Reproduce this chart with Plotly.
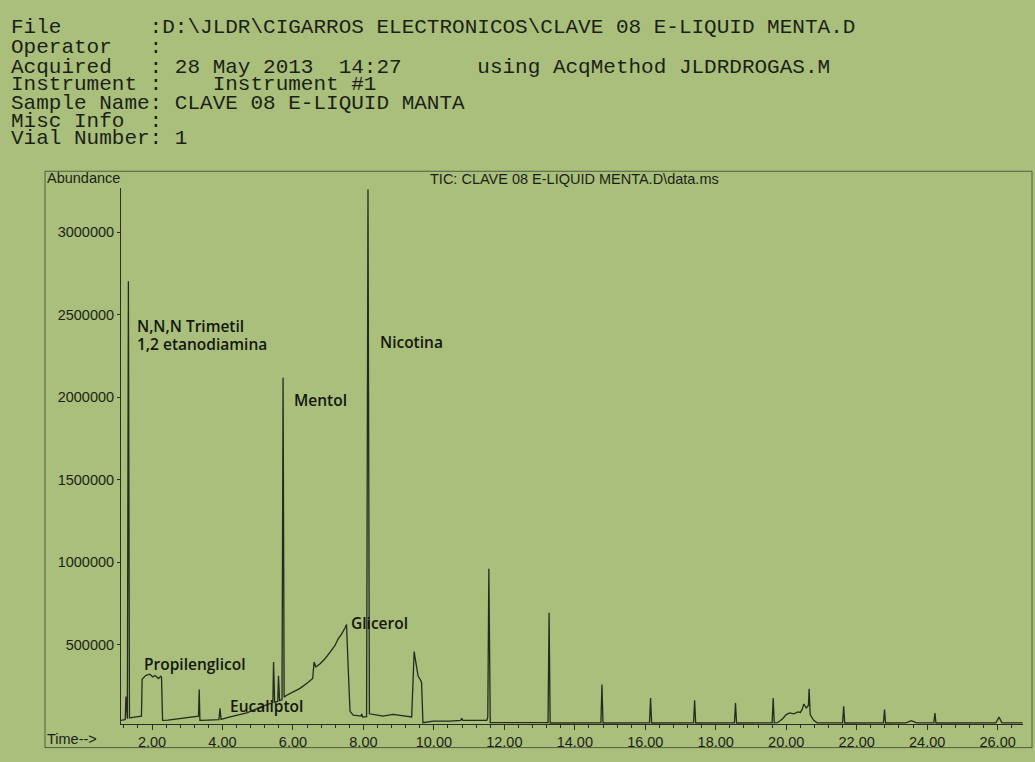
import plotly.graph_objects as go

# ---- data (time in min, abundance) ----
time_min = [1.12, 1.22, 1.24, 1.26, 1.28, 1.30, 1.33, 1.36, 1.45, 1.60, 1.70,
            1.72, 1.75, 1.80, 1.85, 1.94, 2.02, 2.09, 2.18, 2.25, 2.27, 2.30,
            2.45, 2.70, 3.00, 3.30, 3.32, 3.34, 3.36, 3.60, 3.90, 3.93, 3.96,
            4.16, 4.40, 4.69, 5.06, 5.35, 5.43, 5.45, 5.48, 5.57, 5.59, 5.62,
            5.69, 5.72, 5.75, 5.81, 6.01, 6.20, 6.39, 6.56, 6.60, 6.65, 6.77,
            6.91, 7.05, 7.19, 7.28, 7.38, 7.48, 7.52, 7.57, 7.62, 7.71, 7.85,
            7.93, 7.95, 7.98, 8.09, 8.13, 8.17, 8.37, 8.56, 8.84, 9.13, 9.37,
            9.44, 9.51, 9.55, 9.62, 9.65, 9.69, 9.98, 10.45, 10.76, 10.79, 10.82,
            11.02, 11.50, 11.53, 11.56, 11.60, 11.62, 13.24, 13.27, 13.30,
            14.74, 14.77, 14.80, 16.12, 16.15, 16.18, 17.37, 17.40, 17.43,
            18.53, 18.56, 18.59, 19.60, 19.63, 19.66, 19.75, 19.90, 20.00,
            20.10, 20.22, 20.33, 20.40, 20.45, 20.50, 20.57, 20.63, 20.65,
            20.68, 20.78, 20.88, 21.60, 21.63, 21.66, 22.76, 22.79, 22.82,
            23.40, 23.55, 23.70, 24.19, 24.22, 24.25, 25.95, 26.04, 26.12, 26.71]
abundance = [40000, 42000, 45000, 185000, 50000, 50000, 2703000, 55000, 58000, 64000, 66000,
             290000, 298000, 308000, 314000, 320000, 304000, 312000, 294000, 308000, 300000, 40000,
             42000, 48000, 56000, 64000, 66000, 227000, 40000, 42000, 45000, 113000, 46000,
             58000, 72000, 85000, 119000, 145000, 148000, 394000, 150000, 155000, 310000, 160000,
             165000, 2118000, 180000, 191000, 215000, 234000, 264000, 294000, 394000, 364000, 384000,
             414000, 453000, 493000, 533000, 563000, 602000, 622000, 350000, 95000, 72000, 66000,
             66000, 79000, 60000, 62000, 3260000, 80000, 72000, 66000, 76000, 66000, 61000,
             457000, 354000, 310000, 285000, 270000, 26000, 36000, 36000, 40000, 52000, 40000,
             40000, 40000, 60000, 960000, 26000, 26000, 26000, 692000, 24000,
             25000, 258000, 24000, 25000, 175000, 24000, 25000, 162000, 24000,
             25000, 145000, 24000, 25000, 175000, 25000, 26000, 50000, 75000,
             85000, 80000, 91000, 88000, 105000, 139000, 115000, 130000, 231000,
             75000, 40000, 25000, 25000, 125000, 24000, 25000, 105000, 24000,
             25000, 38000, 25000, 25000, 85000, 24000, 25000, 60000, 25000, 25000]

y_ticks = [500000, 1000000, 1500000, 2000000, 2500000, 3000000]
x_ticks = [2, 4, 6, 8, 10, 12, 14, 16, 18, 20, 22, 24, 26]
x_tick_labels = ["%.2f" % v for v in x_ticks]

header_lines = [
    "File       :D:\\JLDR\\CIGARROS ELECTRONICOS\\CLAVE 08 E-LIQUID MENTA.D",
    "Operator   :",
    "Acquired   : 28 May 2013  14:27      using AcqMethod JLDRDROGAS.M",
    "Instrument :    Instrument #1",
    "Sample Name: CLAVE 08 E-LIQUID MANTA",
    "Misc Info  :",
    "Vial Number: 1",
]
peak_labels = ["N,N,N Trimetil", "1,2 etanodiamina", "Mentol", "Nicotina",
               "Propilenglicol", "Eucaliptol", "Glicerol"]
title_text = "TIC: CLAVE 08 E-LIQUID MENTA.D\\data.ms"

# ---- layout geometry (pixels) ----
WIDTH, HEIGHT = 1035, 762
L, R, T, B = 121, 1023, 188, 733
PW, PH = R - L, B - T
BG = "#a9bf7b"
INK = "#1c1f17"


def px(x):
    return (x - L) / PW


def py(y):
    return (B - y) / PH


fig = go.Figure()
fig.add_trace(go.Scatter(x=time_min, y=abundance, mode="lines",
                         line=dict(color="#262a20", width=1.3),
                         hoverinfo="x+y", showlegend=False))

annotations = []
header_y = [25, 45, 65, 83, 102, 120, 138]
for line, yy in zip(header_lines, header_y):
    annotations.append(dict(text=line.replace(" ", "\u00a0"), x=px(9), y=py(yy),
                            xref="paper", yref="paper", xanchor="left", yanchor="middle",
                            showarrow=False,
                            font=dict(family="Liberation Mono, Courier New, monospace",
                                      size=21, color=INK)))

label_pos = [(135, 328), (135, 347), (292, 404), (378, 345),
             (142, 672), (228, 715), (349, 630)]
for txt, (xx, yy) in zip(peak_labels, label_pos):
    annotations.append(dict(text=txt, x=px(xx), y=py(yy), xref="paper", yref="paper",
                            xanchor="left", yanchor="middle", showarrow=False,
                            font=dict(family="Open Sans, Noto Sans, sans-serif",
                                      size=15.5, weight=600, color="#141611")))

sans = "Liberation Sans, Arial, sans-serif"
annotations.append(dict(text="Abundance", x=px(45), y=py(178), xref="paper", yref="paper",
                        xanchor="left", yanchor="middle", showarrow=False,
                        font=dict(family=sans, size=14.5, color=INK)))
annotations.append(dict(text=title_text, x=px(574), y=py(179), xref="paper", yref="paper",
                        xanchor="center", yanchor="middle", showarrow=False,
                        font=dict(family=sans, size=14.5, color=INK)))
annotations.append(dict(text="Time-->", x=px(45), y=py(748), xref="paper", yref="paper",
                        xanchor="left", yanchor="middle", showarrow=False,
                        font=dict(family=sans, size=14.5, color=INK)))

shapes = [dict(type="rect", xref="paper", yref="paper",
               x0=px(45), x1=px(1032), y0=py(757), y1=py(171),
               line=dict(color="rgba(55,60,45,0.75)", width=1))]

fig.update_layout(
    width=WIDTH, height=HEIGHT,
    margin=dict(l=L, r=WIDTH - R, t=T, b=HEIGHT - B, pad=0),
    paper_bgcolor=BG, plot_bgcolor=BG,
    annotations=annotations, shapes=shapes,
    xaxis=dict(range=[1.12, 26.72], tickvals=x_ticks, ticktext=x_tick_labels,
               showgrid=False, zeroline=False, showline=True, linecolor="#2a2e24",
               linewidth=1, ticks="outside", ticklen=5, tickcolor="#2a2e24",
               minor=dict(dtick=0.4, tick0=0, ticks="outside", ticklen=3,
                          tickcolor="#2a2e24", showgrid=False),
               tickfont=dict(family=sans, size=14.5, color=INK)),
    yaxis=dict(range=[18000, 3269000], tickvals=y_ticks,
               ticktext=[str(v) for v in y_ticks],
               showgrid=False, zeroline=False, showline=True, linecolor="#2a2e24",
               linewidth=1, ticks="outside", ticklen=3, tickcolor="#2a2e24",
               tickfont=dict(family=sans, size=14.5, color=INK)),
)

fig.write_html(
    "out.html",
    config={"displayModeBar": False},
    post_script="document.body.style.margin='0';document.body.style.overflow='hidden';"
                "document.body.style.background='" + BG + "';",
)
